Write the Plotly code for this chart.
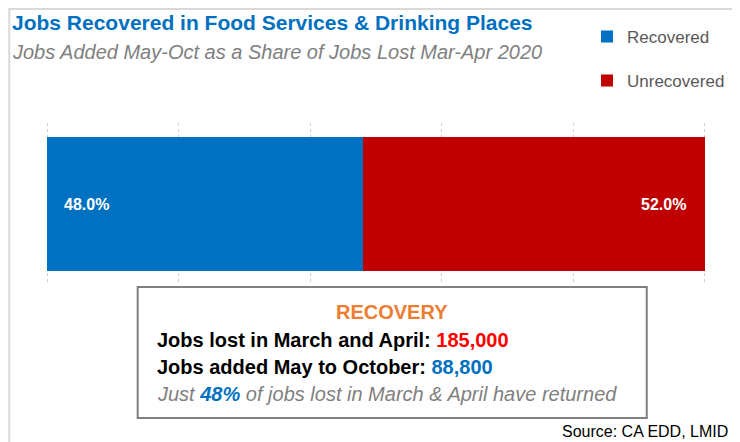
"""Stacked share bar: jobs recovered in food services & drinking places."""

import plotly.graph_objects as go

# ── Data ──────────────────────────────────────────────────────────────────
categories = ["Recovered", "Unrecovered"]
shares = [48.0, 52.0]
jobs_lost = 185000
jobs_added = 88800

# ── Style ─────────────────────────────────────────────────────────────────
BLUE = "#0070C0"
RED = "#C00000"
GREY = "#808080"
DARK = "#595959"
FONT = "Liberation Sans Narrow, Arial Narrow, Liberation Sans, Arial, sans-serif"
COLORS = {"Recovered": BLUE, "Unrecovered": RED}

fig = go.Figure()
for cat, val in zip(categories, shares):
    fig.add_trace(
        go.Bar(
            x=[val],
            y=["Jobs"],
            name=cat,
            orientation="h",
            width=0.83,
            marker={"color": COLORS[cat], "line": {"width": 0}},
            legendgroup=cat,
            hoverinfo="skip",
        )
    )

# bar labels at each end of the stack
total = sum(shares)
fig.add_annotation(
    x=0, y="Jobs", text=f"<b>{shares[0]:.1f}%</b>", showarrow=False,
    xanchor="left", yanchor="middle", xshift=15, font={"color": "white", "size": 16},
)
fig.add_annotation(
    x=total, y="Jobs", text=f"<b>{shares[1]:.1f}%</b>", showarrow=False,
    xanchor="right", yanchor="middle", xshift=-17, font={"color": "white", "size": 16},
)

# title + subtitle
fig.add_annotation(
    xref="paper", yref="paper", x=-0.053, y=1.623, xanchor="left", yanchor="middle",
    text="<b>Jobs Recovered in Food Services & Drinking Places</b>",
    showarrow=False, font={"color": BLUE, "size": 21},
)
fig.add_annotation(
    xref="paper", yref="paper", x=-0.053, y=1.438, xanchor="left", yanchor="middle",
    text="<i>Jobs Added May-Oct as a Share of Jobs Lost Mar-Apr 2020</i>",
    showarrow=False, font={"color": GREY, "size": 20},
)

# recovery box
pct = round(jobs_added / jobs_lost * 100)
fig.add_shape(
    type="rect", xref="paper", yref="paper", x0=0.14, x1=0.909, y0=-0.821, y1=-0.012,
    line={"color": "#7F7F7F", "width": 2}, fillcolor="white",
)
fig.add_annotation(
    xref="paper", yref="paper", x=0.524, y=-0.167, xanchor="center", yanchor="middle",
    showarrow=False, text="<b>RECOVERY</b>", font={"color": "#ED7D31", "size": 20},
)
box_lines = [
    (f"<b>Jobs lost in March and April: <span style='color:#FF0000'>{jobs_lost:,}</span></b>", -0.34),
    (f"<b>Jobs added May to October: <span style='color:{BLUE}'>{jobs_added:,}</span></b>", -0.506),
    (f"<i>Just <b><span style='color:{BLUE}'>{pct}%</span></b> of jobs lost in March & April have returned</i>", -0.67),
]
for i, (txt, yy) in enumerate(box_lines):
    fig.add_annotation(
        xref="paper", yref="paper", x=0.166, y=yy, xanchor="left", yanchor="middle",
        showarrow=False, text=txt,
        font={"color": GREY if i == 2 else "black", "size": 20},
    )

# source
fig.add_annotation(
    xref="paper", yref="paper", x=1.034, y=-0.907, xanchor="right", yanchor="middle",
    showarrow=False, text="Source: CA EDD, LMID", font={"color": "black", "size": 16},
)

# outer frame (page body adds an 8px offset, so it sits at the figure edge)
fig.add_shape(
    type="rect", xref="paper", yref="paper", x0=-0.054, x1=1.043, y0=-1.05, y1=1.703,
    line={"color": "#D9D9D9", "width": 2}, layer="below",
)

# page body has an 8px margin, so the figure is sized/shifted to fit the window
fig.update_layout(
    width=732,
    height=434,
    barmode="stack",
    plot_bgcolor="white",
    paper_bgcolor="white",
    font={"family": FONT, "color": DARK},
    margin={"l": 37, "r": 32.5, "t": 115, "b": 157, "autoexpand": False},
    showlegend=True,
    legend={
        "xref": "container", "yref": "container",
        "x": 0.791, "y": 0.975, "xanchor": "left", "yanchor": "top",
        "font": {"size": 17, "color": DARK},
        "tracegroupgap": 19, "itemwidth": 30,
        "bgcolor": "rgba(0,0,0,0)",
    },
    xaxis={
        "range": [-0.35, 100.35], "dtick": 20, "showticklabels": False,
        "showgrid": True, "gridcolor": "#D0D0D0", "griddash": "dot",
        "zeroline": False, "showline": False, "fixedrange": True,
    },
    yaxis={
        "range": [-0.5, 0.5], "showticklabels": False, "showgrid": False,
        "zeroline": False, "fixedrange": True,
    },
)

fig.write_html("out.html")
